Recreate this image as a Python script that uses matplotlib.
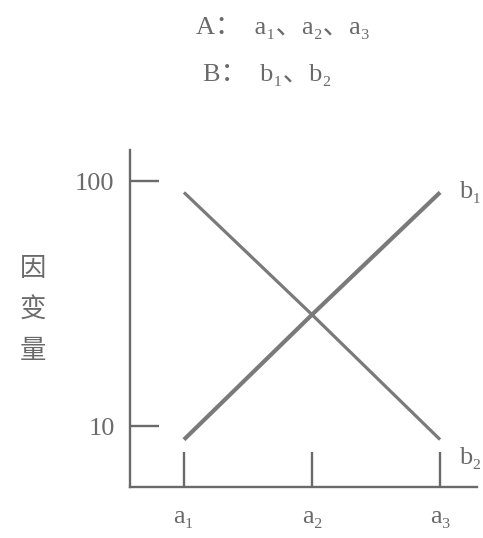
import matplotlib.pyplot as plt

plt.rcParams['font.family'] = ['Liberation Serif', 'DejaVu Serif', 'Noto Sans CJK SC']

grey = '#6a6a6a'
line_grey = '#7a7a7a'

# data
levels_a = [1, 2, 3]
a_labels = ['a₁', 'a₂', 'a₃']
b1 = [8.8, 28.5, 90]
b2 = [90, 28.5, 8.8]
y_ticks = [10, 100]
y_labels = ['10', '100']

fig = plt.figure(figsize=(4.83, 5.38), dpi=100)
ax = fig.add_axes([0.269, 0.095, 0.719, 0.626])

ax.plot(levels_a, b1, color=line_grey, lw=3.0, solid_capstyle='butt')
ax.plot(levels_a, b2, color=line_grey, lw=2.3, solid_capstyle='butt')

ax.set_yscale('log')
ax.set_xlim(0.578, 3.29)
ax.set_ylim(5.64, 134)
ax.minorticks_off()

ax.set_yticks(y_ticks)
ax.set_yticklabels(y_labels)
ax.set_xticks(levels_a)
ax.set_xticklabels(a_labels)

for s in ['top', 'right']:
    ax.spines[s].set_visible(False)
for s in ['left', 'bottom']:
    ax.spines[s].set_color(grey)
    ax.spines[s].set_linewidth(1.7)

ax.tick_params(axis='y', direction='in', length=21, width=1.7, color=grey,
               labelsize=19, labelcolor=grey, pad=11)
ax.tick_params(axis='x', direction='in', length=25, width=1.7, color=grey,
               labelsize=19, labelcolor=grey, pad=14)

ax.text(3.15, 90, 'b₁', fontsize=19, color=grey, va='center', ha='left')
ax.text(3.15, 7.4, 'b₂', fontsize=19, color=grey, va='center', ha='left')

# vertical y label
fig.text(0.068, 0.425, '因\n变\n量', fontsize=19, color=grey, ha='center',
         va='center', linespacing=1.65, family='Noto Sans CJK SC')

fig.text(0.405, 0.948, 'A：  a₁、a₂、a₃', fontsize=19, color=grey,
         ha='left', va='center')
fig.text(0.42, 0.86, 'B：  b₁、b₂', fontsize=19, color=grey,
         ha='left', va='center')

fig.savefig('out.png', dpi=100, facecolor='white')
